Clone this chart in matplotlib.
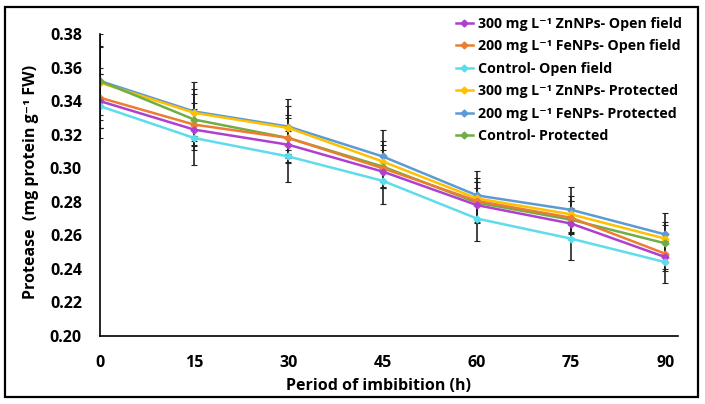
import matplotlib
matplotlib.use("Agg")
import matplotlib.pyplot as plt
from matplotlib.patches import Rectangle

plt.rcParams['font.family'] = ['Open Sans', 'DejaVu Sans']
plt.rcParams['font.weight'] = 'bold'

# imbibition period (h)
hours = [0, 15, 30, 45, 60, 75, 90]

# protease activity (mg protein g-1 FW)
zn_open = [0.340, 0.323, 0.314, 0.298, 0.278, 0.267, 0.247]
fe_open = [0.342, 0.326, 0.318, 0.300, 0.2805, 0.2705, 0.249]
ctrl_open = [0.337, 0.318, 0.307, 0.2925, 0.270, 0.258, 0.244]
zn_prot = [0.351, 0.333, 0.324, 0.304, 0.282, 0.2725, 0.258]
fe_prot = [0.352, 0.3338, 0.3248, 0.307, 0.2838, 0.2752, 0.2605]
ctrl_prot = [0.352, 0.329, 0.318, 0.301, 0.2795, 0.2693, 0.2552]

# standard errors
zn_open_err = [0.016, 0.012, 0.011, 0.010, 0.010, 0.009, 0.008]
fe_open_err = [0.018, 0.013, 0.012, 0.011, 0.011, 0.010, 0.009]
ctrl_open_err = [0.019, 0.016, 0.0153, 0.014, 0.0135, 0.0125, 0.0126]
zn_prot_err = [0.022, 0.014, 0.013, 0.012, 0.012, 0.011, 0.010]
fe_prot_err = [0.028, 0.0174, 0.0163, 0.0155, 0.0147, 0.0135, 0.0129]
ctrl_prot_err = [0.020, 0.015, 0.014, 0.013, 0.012, 0.011, 0.011]

labels = ['300 mg L⁻¹ ZnNPs- Open field', '200 mg L⁻¹ FeNPs- Open field',
          'Control- Open field', '300 mg L⁻¹ ZnNPs- Protected',
          '200 mg L⁻¹ FeNPs- Protected', 'Control- Protected']
colors = ['#B03FD0', '#ED7D31', '#5FDCEB', '#FFC000', '#5B9BD5', '#70AD47']

series = [zn_open, fe_open, ctrl_open, zn_prot, fe_prot, ctrl_prot]
errors = [zn_open_err, fe_open_err, ctrl_open_err, zn_prot_err, fe_prot_err, ctrl_prot_err]

fig = plt.figure(figsize=(7.05, 4.04), dpi=100)
ax = fig.add_axes([100 / 705, 1 - 336 / 404, 578 / 705, 302 / 404])

# draw in reverse so the open field lines sit on top like the original
order = [4, 3, 5, 1, 0, 2]
handles = {}
for i in order:
    ax.errorbar(hours, series[i], yerr=errors[i], fmt='none', ecolor='#222222',
                elinewidth=1.2, capsize=2, capthick=0.8, zorder=1)
for i in order:
    h, = ax.plot(hours, series[i], color=colors[i], lw=1.8, marker='D',
                 markersize=3.5, label=labels[i], zorder=2)
    handles[i] = h

ax.set_xlim(0, 92)
ax.set_ylim(0.20, 0.38)
ax.set_xticks(hours)
ax.set_yticks([0.20, 0.22, 0.24, 0.26, 0.28, 0.30, 0.32, 0.34, 0.36, 0.38])
ax.set_yticklabels([f'{v:.2f}' for v in ax.get_yticks()])
ax.tick_params(length=0, labelsize=11.5)
ax.tick_params(axis='y', pad=13)
ax.tick_params(axis='x', pad=14)
for lab in ax.get_xticklabels() + ax.get_yticklabels():
    lab.set_fontweight('bold')
ax.spines['top'].set_visible(False)
ax.spines['right'].set_visible(False)
ax.spines['left'].set_linewidth(1.2)
ax.spines['bottom'].set_linewidth(1.2)

ax.set_xlabel('Period of imbibition (h)', fontsize=11.5, fontweight='bold')
ax.set_ylabel('Protease  (mg protein g⁻¹ FW)', fontsize=11.5, fontweight='bold')
ax.xaxis.set_label_coords(0.481, -0.14)
ax.yaxis.set_label_coords(-0.106, 0.51)

leg = fig.legend([handles[i] for i in range(6)], labels, loc='upper left',
                 bbox_to_anchor=(443 / 705, 1 - 4 / 404), frameon=False,
                 fontsize=10.2, handlelength=1.2, handletextpad=0.4, labelspacing=0.6)
for t in leg.get_texts():
    t.set_fontweight('bold')

# frame around the whole picture
fig.patches.append(Rectangle((5 / 705, 1 - 397 / 404), 693 / 705, 390 / 404,
                             transform=fig.transFigure, fill=False,
                             edgecolor='black', linewidth=1.6))

fig.savefig('out.png', dpi=100)
